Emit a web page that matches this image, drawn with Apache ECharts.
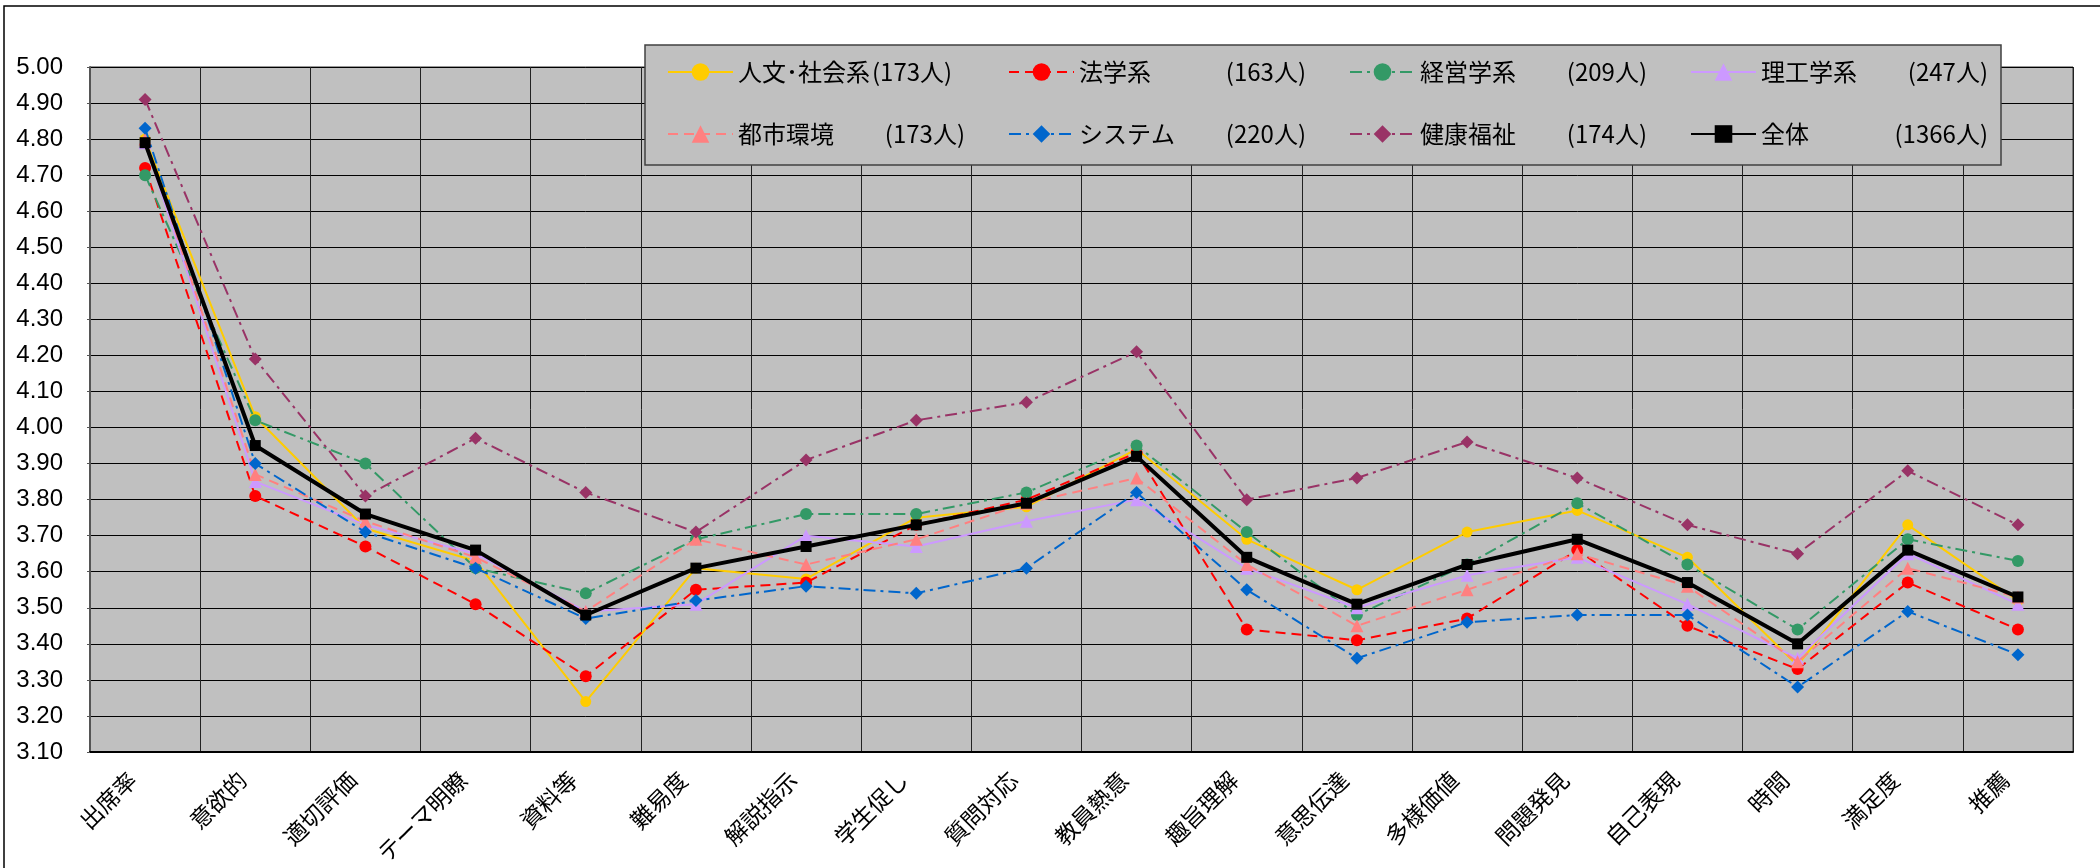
<!DOCTYPE html>
<html>
<head>
<meta charset="utf-8">
<script src="https://cdn.jsdelivr.net/npm/echarts@6/dist/echarts.min.js"></script>
<style>
html, body { margin: 0; padding: 0; background: #fff; }
#chart { width: 2100px; height: 868px; }
</style>
</head>
<body>
<div id="chart"></div>
<script>
var categories = ['出席率','意欲的','適切評価','テーマ明瞭','資料等','難易度','解説指示','学生促し','質問対応','教員熱意','趣旨理解','意思伝達','多様価値','問題発見','自己表現','時間','満足度','推薦'];

var jinbun  = [4.80, 4.03, 3.72, 3.63, 3.24, 3.61, 3.58, 3.75, 3.78, 3.94, 3.69, 3.55, 3.71, 3.77, 3.64, 3.34, 3.73, 3.52];
var hougaku = [4.72, 3.81, 3.67, 3.51, 3.31, 3.55, 3.57, 3.73, 3.80, 3.93, 3.44, 3.41, 3.47, 3.66, 3.45, 3.33, 3.57, 3.44];
var keiei   = [4.70, 4.02, 3.90, 3.61, 3.54, 3.69, 3.76, 3.76, 3.82, 3.95, 3.71, 3.48, 3.62, 3.79, 3.62, 3.44, 3.69, 3.63];
var rikou   = [4.79, 3.85, 3.73, 3.65, 3.49, 3.51, 3.70, 3.67, 3.74, 3.80, 3.61, 3.50, 3.59, 3.64, 3.51, 3.36, 3.65, 3.51];
var toshi   = [4.80, 3.87, 3.74, 3.64, 3.49, 3.69, 3.62, 3.69, 3.79, 3.86, 3.62, 3.45, 3.55, 3.65, 3.56, 3.35, 3.61, 3.53];
var system  = [4.83, 3.90, 3.71, 3.61, 3.47, 3.52, 3.56, 3.54, 3.61, 3.82, 3.55, 3.36, 3.46, 3.48, 3.48, 3.28, 3.49, 3.37];
var kenkou  = [4.91, 4.19, 3.81, 3.97, 3.82, 3.71, 3.91, 4.02, 4.07, 4.21, 3.80, 3.86, 3.96, 3.86, 3.73, 3.65, 3.88, 3.73];
var zentai  = [4.79, 3.95, 3.76, 3.66, 3.48, 3.61, 3.67, 3.73, 3.79, 3.92, 3.64, 3.51, 3.62, 3.69, 3.57, 3.40, 3.66, 3.53];

var names  = ['人文･社会系','法学系','経営学系','理工学系','都市環境','システム','健康福祉','全体'];
var counts = ['(173人)','(163人)','(209人)','(247人)','(173人)','(220人)','(174人)','(1366人)'];

var chart = echarts.init(document.getElementById('chart'));

function mkSeries(i, data, color, type, symbol, size, width) {
    return {
        name: names[i],
        type: 'line',
        data: data,
        symbol: symbol,
        symbolSize: size,
        showSymbol: true,
        itemStyle: { color: color },
        lineStyle: { color: color, width: width, type: type },
        z: 2 + i
    };
}

// first item: count follows the name directly, others: count right aligned
function legendFmt(name) {
    var i = names.indexOf(name);
    if (i == 0) return '{n|' + name + '}{c1|' + counts[i] + '}';
    return '{n|' + name + '}{c|' + counts[i] + '}';
}

var ff = 'Noto Sans CJK JP';
var legendRich = {
    n:  { width: 134, fontSize: 24, lineHeight: 30, fontFamily: ff, color: '#000' },
    c:  { width: 93, align: 'right', fontSize: 24, lineHeight: 30, fontFamily: ff, color: '#000' },
    c1: { width: 93, align: 'left', fontSize: 24, lineHeight: 30, fontFamily: ff, color: '#000' }
};

var option = {
    backgroundColor: '#fff',
    animation: false,
    graphic: [
        { type: 'rect', z: 0, shape: { x: 4, y: 6, width: 2300, height: 1000 },
          style: { fill: 'none', stroke: '#000', lineWidth: 1.5 } },
        { type: 'rect', z: 100, shape: { x: 645, y: 45, width: 1356, height: 120 },
          style: { fill: '#C0C0C0', stroke: '#404040', lineWidth: 1.5 } }
    ],
    legend: [
        {
            data: names.slice(0, 4), left: 667, top: 60, padding: 0,
            itemWidth: 65, itemHeight: 22, itemGap: 43, z: 110,
            formatter: legendFmt, textStyle: { rich: legendRich }
        },
        {
            data: names.slice(4, 8), left: 667, top: 122, padding: 0,
            itemWidth: 65, itemHeight: 22, itemGap: 43, z: 110,
            formatter: legendFmt, textStyle: { rich: legendRich }
        }
    ],
    grid: { left: 90, top: 67, right: 27, bottom: 116, show: true, backgroundColor: '#C0C0C0', borderColor: '#333', borderWidth: 1 },
    xAxis: {
        type: 'category',
        data: categories,
        boundaryGap: true,
        axisLine: { lineStyle: { color: '#000', width: 2 } },
        axisTick: { show: false },
        splitLine: { show: true, lineStyle: { color: '#222', width: 1 } },
        axisLabel: {
            interval: 0, rotate: 45, margin: 11, padding: [0, 18, 0, 0],
            fontSize: 23, color: '#000', fontFamily: ff
        }
    },
    yAxis: {
        type: 'value',
        min: 3.1, max: 5.0, interval: 0.1,
        axisLine: { show: true, lineStyle: { color: '#555', width: 2 } },
        axisTick: { show: true, length: 3, lineStyle: { color: '#555' } },
        splitLine: { lineStyle: { color: '#000', width: 1 } },
        axisLabel: {
            margin: 27, fontSize: 24, color: '#000', fontFamily: 'Liberation Sans',
            formatter: function (v) { return v.toFixed(2); }
        }
    },
    series: [
        mkSeries(0, jinbun,  '#FFCC00', 'solid', 'circle', 11, 2),
        mkSeries(1, hougaku, '#FF0000', [10, 6], 'circle', 12, 2),
        mkSeries(2, keiei,   '#339966', [12, 5, 3, 5], 'circle', 12, 2),
        mkSeries(3, rikou,   '#CC99FF', 'solid', 'triangle', 13, 2),
        mkSeries(4, toshi,   '#FF8080', [10, 6], 'triangle', 13, 2),
        mkSeries(5, system,  '#0066CC', [12, 5, 3, 5], 'diamond', 13, 2),
        mkSeries(6, kenkou,  '#993366', [12, 5, 3, 5], 'diamond', 13, 2),
        mkSeries(7, zentai,  '#000000', 'solid', 'rect', 11, 4)
    ]
};

chart.setOption(option);
</script>
</body>
</html>
